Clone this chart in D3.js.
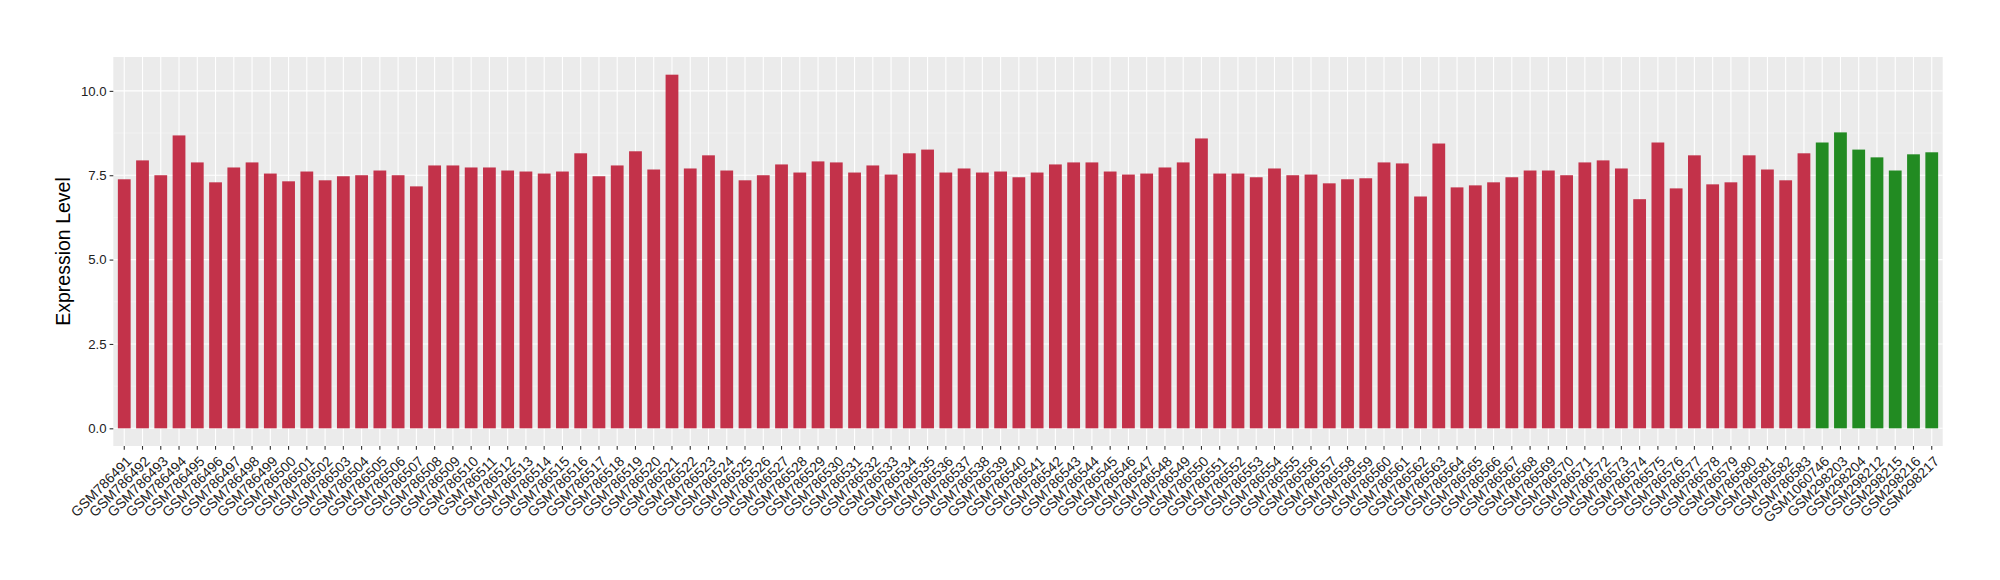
<!DOCTYPE html>
<html>
<head>
<meta charset="utf-8">
<script src="https://cdn.jsdelivr.net/npm/d3@7"></script>
<style>
  html, body { margin: 0; padding: 0; background: #fff; }
  svg { display: block; font-family: "Liberation Sans", Arial, Helvetica, sans-serif; }
</style>
</head>
<body>
<svg id="chart" width="2000" height="580"></svg>
<script>
// ---- data ----
const redSamples = [
  "GSM786491","GSM786492","GSM786493","GSM786494","GSM786495","GSM786496","GSM786497","GSM786498","GSM786499","GSM786500",
  "GSM786501","GSM786502","GSM786503","GSM786504","GSM786505","GSM786506","GSM786507","GSM786508","GSM786509","GSM786510",
  "GSM786511","GSM786512","GSM786513","GSM786514","GSM786515","GSM786516","GSM786517","GSM786518","GSM786519","GSM786520",
  "GSM786521","GSM786522","GSM786523","GSM786524","GSM786525","GSM786526","GSM786527","GSM786528","GSM786529","GSM786530",
  "GSM786531","GSM786532","GSM786533","GSM786534","GSM786535","GSM786536","GSM786537","GSM786538","GSM786539","GSM786540",
  "GSM786541","GSM786542","GSM786543","GSM786544","GSM786545","GSM786546","GSM786547","GSM786548","GSM786549","GSM786550",
  "GSM786551","GSM786552","GSM786553","GSM786554","GSM786555","GSM786556","GSM786557","GSM786558","GSM786559","GSM786560",
  "GSM786561","GSM786562","GSM786563","GSM786564","GSM786565","GSM786566","GSM786567","GSM786568","GSM786569","GSM786570",
  "GSM786571","GSM786572","GSM786573","GSM786574","GSM786575","GSM786576","GSM786577","GSM786578","GSM786579","GSM786580",
  "GSM786581","GSM786582","GSM786583"
];
const redValues = [
  7.38, 7.94, 7.50, 8.68, 7.88, 7.29, 7.73, 7.88, 7.55, 7.32,
  7.61, 7.35, 7.47, 7.50, 7.64, 7.50, 7.17, 7.79, 7.79, 7.73,
  7.73, 7.64, 7.61, 7.55, 7.61, 8.15, 7.47, 7.79, 8.21, 7.67,
  10.48, 7.70, 8.09, 7.64, 7.35, 7.50, 7.82, 7.58, 7.91, 7.88,
  7.58, 7.79, 7.52, 8.15, 8.26, 7.58, 7.70, 7.58, 7.61, 7.44,
  7.58, 7.82, 7.88, 7.88, 7.61, 7.52, 7.55, 7.73, 7.88, 8.59,
  7.55, 7.55, 7.44, 7.70, 7.50, 7.52, 7.26, 7.38, 7.41, 7.88,
  7.85, 6.87, 8.44, 7.14, 7.20, 7.29, 7.44, 7.64, 7.64, 7.50,
  7.88, 7.94, 7.70, 6.79, 8.47, 7.11, 8.09, 7.23, 7.29, 8.09,
  7.67, 7.35, 8.15
];
const greenSamples = ["GSM1060746","GSM298203","GSM298204","GSM298212","GSM298215","GSM298216","GSM298217"];
const greenValues = [8.47, 8.77, 8.26, 8.03, 7.64, 8.12, 8.18];
const yTicks = [0, 2.5, 5, 7.5, 10];
const yMinorTicks = [1.25, 3.75, 6.25, 8.75];
const yLabel = "Expression Level";

// ---- build table ----
const rows = redSamples.map((s, i) => ({ sample: s, value: redValues[i], group: "red" }))
  .concat(greenSamples.map((s, i) => ({ sample: s, value: greenValues[i], group: "green" })));
const colors = { red: "#C3324A", green: "#228B22" };

// ---- layout ----
const panel = { left: 113.3, right: 1942.7, top: 57, bottom: 446 };
const svg = d3.select("#chart");

const x = d3.scaleBand()
  .domain(rows.map(d => d.sample))
  .range([panel.left, panel.right])
  .paddingInner(0.3)
  .paddingOuter(0.25);

const maxV = d3.max(rows, d => d.value);
const pad = 0.05 * maxV;
const y = d3.scaleLinear().domain([-pad, maxV + pad]).range([panel.bottom, panel.top]);

// panel background
svg.append("rect")
  .attr("x", panel.left).attr("y", panel.top)
  .attr("width", panel.right - panel.left).attr("height", panel.bottom - panel.top)
  .attr("fill", "#EBEBEB");

// minor grid
svg.append("g").selectAll("line").data(yMinorTicks).join("line")
  .attr("x1", panel.left).attr("x2", panel.right)
  .attr("y1", d => y(d)).attr("y2", d => y(d))
  .attr("stroke", "#F7F7F7").attr("stroke-width", 0.6);

// major grid
svg.append("g").selectAll("line").data(yTicks).join("line")
  .attr("x1", panel.left).attr("x2", panel.right)
  .attr("y1", d => y(d)).attr("y2", d => y(d))
  .attr("stroke", "#FFFFFF").attr("stroke-width", 1.1);
svg.append("g").selectAll("line").data(rows).join("line")
  .attr("x1", d => x(d.sample) + x.bandwidth() / 2).attr("x2", d => x(d.sample) + x.bandwidth() / 2)
  .attr("y1", panel.top).attr("y2", panel.bottom)
  .attr("stroke", "#FFFFFF").attr("stroke-width", 1.1);

// bars
svg.append("g").selectAll("rect").data(rows).join("rect")
  .attr("x", d => x(d.sample))
  .attr("width", x.bandwidth())
  .attr("y", d => y(d.value))
  .attr("height", d => y(0) - y(d.value))
  .attr("fill", d => colors[d.group]);

// y axis
const yAxis = d3.axisLeft(y).tickValues(yTicks).tickFormat(d3.format(".1f")).tickSize(3.7).tickPadding(3);
const gy = svg.append("g").attr("transform", `translate(${panel.left},0)`).call(yAxis);
gy.select(".domain").remove();
gy.selectAll(".tick line").attr("stroke", "#333333").attr("stroke-width", 1.1);
gy.selectAll(".tick text").attr("fill", "#222").attr("font-size", 13.2)
  .attr("font-family", "'Liberation Sans', Arial, sans-serif");

// x axis
const xAxis = d3.axisBottom(x).tickSize(3.7).tickPadding(2);
const gx = svg.append("g").attr("transform", `translate(0,${panel.bottom})`).call(xAxis);
gx.select(".domain").remove();
gx.selectAll(".tick line").attr("stroke", "#333333").attr("stroke-width", 1.1);
gx.selectAll(".tick text")
  .attr("fill", "#222").attr("font-size", 14)
  .attr("font-family", "'Liberation Sans', Arial, sans-serif")
  .attr("text-anchor", "end")
  .attr("y", 0)
  .attr("dy", "0.72em")
  .attr("transform", "translate(1,9) rotate(-45)");

// y title
svg.append("text")
  .attr("transform", `translate(70,${(panel.top + panel.bottom) / 2}) rotate(-90)`)
  .attr("text-anchor", "middle")
  .attr("font-size", 19.5)
  .attr("fill", "#000")
  .text(yLabel);
</script>
</body>
</html>
